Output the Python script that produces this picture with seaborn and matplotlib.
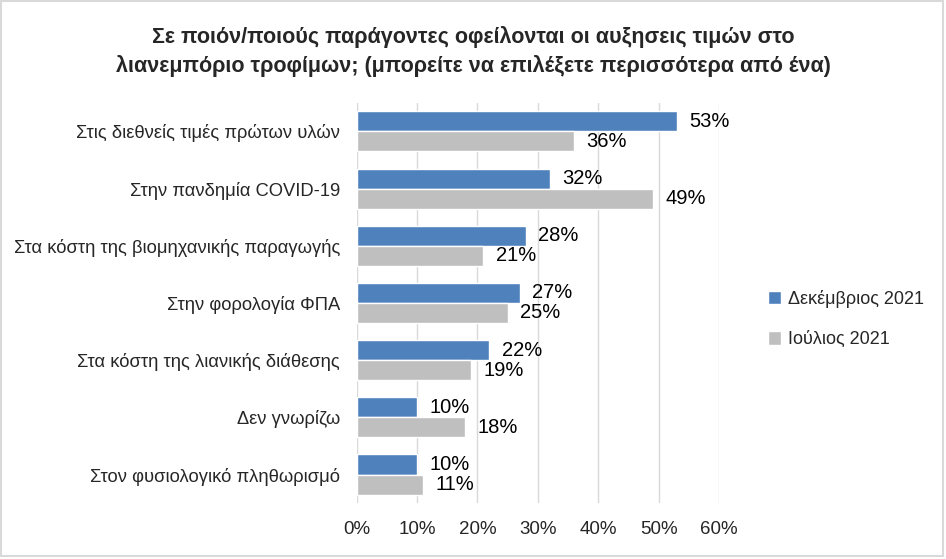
import matplotlib
matplotlib.use("Agg")
import matplotlib.pyplot as plt
import numpy as np
import pandas as pd
import seaborn as sns
from matplotlib.patches import Rectangle
from matplotlib.ticker import PercentFormatter

# DATA
categories = [
    "Στις διεθνείς τιμές πρώτων υλών",
    "Στην πανδημία COVID-19",
    "Στα κόστη της βιομηχανικής παραγωγής",
    "Στην φορολογία ΦΠΑ",
    "Στα κόστη της λιανικής διάθεσης",
    "Δεν γνωρίζω",
    "Στον φυσιολογικό πληθωρισμό",
]
dec_2021 = [53, 32, 28, 27, 22, 10, 10]
jul_2021 = [36, 49, 21, 25, 19, 18, 11]
series_names = ["Δεκέμβριος 2021", "Ιούλιος 2021"]
title = ("Σε ποιόν/ποιούς παράγοντες οφείλονται οι αυξησεις τιμών στο\n"
         "λιανεμπόριο τροφίμων; (μπορείτε να επιλέξετε περισσότερα από ένα)")

df = pd.DataFrame({
    "cat": categories * 2,
    "val": dec_2021 + jul_2021,
    "series": [series_names[0]] * len(categories) + [series_names[1]] * len(categories),
})

sns.set_style("white")
plt.rcParams["font.family"] = ["Liberation Sans", "DejaVu Sans"]

fig = plt.figure(figsize=(9.46, 5.59), dpi=100)
ax = fig.add_axes([0.377, 0.100, 0.383, 0.716])

sns.barplot(data=df, y="cat", x="val", hue="series", orient="h",
            palette=["#4F81BD", "#BFBFBF"], width=0.7, gap=0,
            saturation=1, ax=ax, legend=True)

#DATA LABELS
for cont in ax.containers:
    ax.bar_label(cont, labels=[f"{v:.0f}%" for v in cont.datavalues],
                 padding=9, fontsize=14.5, color="black")

ax.set_xlim(0, 60)
ax.set_xticks(np.arange(0, 61, 10))
ax.xaxis.set_major_formatter(PercentFormatter(decimals=0))
ax.grid(axis="x", color="#D9D9D9", linewidth=1)
ax.set_axisbelow(True)
for s in ax.spines.values():
    s.set_visible(False)
ax.tick_params(axis="x", length=0, pad=13, labelsize=13.5)
ax.tick_params(axis="y", length=0, pad=12, labelsize=13.2)
ax.set_xlabel("")
ax.set_ylabel("")

leg = ax.legend(loc="center left", bbox_to_anchor=(1.09, 0.46), frameon=False,
                fontsize=13, handlelength=0.75, handleheight=0.75,
                handletextpad=0.35, labelspacing=1.3)

fig.text(0.5, 0.908, title, ha="center", va="center", fontsize=15.5,
         fontweight="bold", linespacing=1.45)

#BORDER
fig.patches.append(Rectangle((0.001, 0.005), 0.996, 0.993, transform=fig.transFigure,
                             fill=False, edgecolor="#D9D9D9", linewidth=1.5))

fig.savefig("out.png", dpi=100)
